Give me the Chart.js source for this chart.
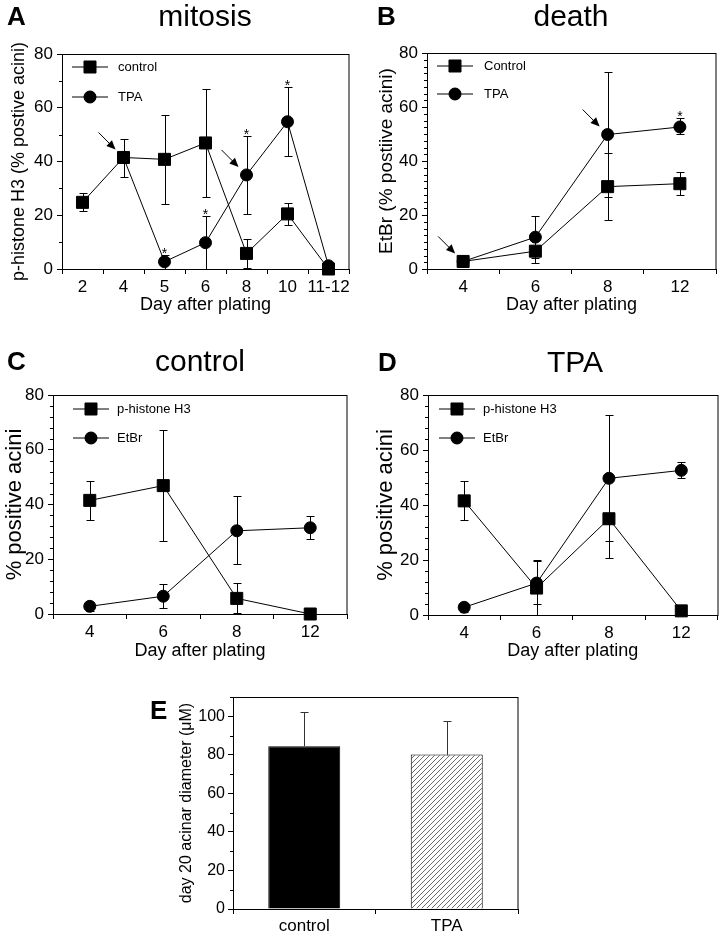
<!DOCTYPE html>
<html>
<head>
<meta charset="utf-8">
<script src="https://cdn.jsdelivr.net/npm/chart.js@4.4.1/dist/chart.umd.min.js"></script>
<style>
  body { margin: 0; background: #fff; width: 727px; height: 937px; position: relative; overflow: hidden;
         font-family: "Liberation Sans", Arial, sans-serif; }
  canvas { position: absolute; left: 0; top: 0; }
  .lbl { position: absolute; line-height: 1; white-space: nowrap; color: #000; transform: translateY(-50%); }
  .letter { font-weight: bold; font-size: 26px; }
  .ttl { font-size: 30px; transform: translate(-50%, -50%); }
</style>
</head>
<body>
<canvas id="chartA" width="727" height="937"></canvas>
<canvas id="chartB" width="727" height="937"></canvas>
<canvas id="chartC" width="727" height="937"></canvas>
<canvas id="chartD" width="727" height="937"></canvas>
<canvas id="chartE" width="727" height="937"></canvas>

<div class="lbl letter" style="left:7px;top:16px">A</div>
<div class="lbl ttl" style="left:205px;top:16px">mitosis</div>
<div class="lbl letter" style="left:377px;top:16px">B</div>
<div class="lbl ttl" style="left:571px;top:16px">death</div>
<div class="lbl letter" style="left:7px;top:361px">C</div>
<div class="lbl ttl" style="left:200px;top:361px">control</div>
<div class="lbl letter" style="left:378px;top:362px">D</div>
<div class="lbl ttl" style="left:575px;top:362px">TPA</div>
<div class="lbl letter" style="left:150px;top:710px">E</div>

<script>
const FONT = '"Liberation Sans", Arial, sans-serif';

// A - mitosis (p-histone H3)
const daysA = ['2', '4', '5', '6', '8', '10', '11-12'];
const ctrlA = [24.8, 41.5, 40.8, 46.9, 5.8, 20.5, 0];
const ctrlALo = [21.6, 34.2, 24.3, 26.8, 0.2, 16.5, null];
const ctrlAHi = [28.3, 48.4, 57.4, 67.0, 11.3, 24.7, null];
const tpaA = [null, 41.5, 2.7, 9.8, 35.0, 54.8, 1.2];
const tpaALo = [null, null, 0, 0, 20.6, 42.0, null];
const tpaAHi = [null, null, 5.3, 19.8, 49.4, 67.7, null];

// B - death (EtBr)
const daysB = ['4', '6', '8', '12'];
const ctrlB = [2.8, 6.6, 30.5, 31.6];
const ctrlBLo = [null, 2.3, 18.2, 27.4];
const ctrlBHi = [null, 10.8, 43.1, 35.9];
const tpaB = [2.8, 11.8, 49.8, 52.6];
const tpaBLo = [null, 4.0, 26.8, 50.0];
const tpaBHi = [null, 19.7, 72.9, 55.8];

// C - control
const daysC = ['4', '6', '8', '12'];
const ph3C = [41.5, 46.9, 5.7, 0];
const ph3CLo = [34.3, 26.8, 0.3, null];
const ph3CHi = [48.5, 67.2, 11.4, null];
const etbrC = [2.8, 6.5, 30.4, 31.5];
const etbrCLo = [1.2, 2.2, 18.2, 27.3];
const etbrCHi = [4.5, 10.9, 43.0, 35.8];

// D - TPA
const daysD = ['4', '6', '8', '12'];
const ph3D = [41.5, 9.8, 35.0, 1.5];
const ph3DLo = [34.4, 0, 20.7, null];
const ph3DHi = [48.6, 19.8, 49.5, null];
const etbrD = [2.8, 11.6, 49.7, 52.6];
const etbrDLo = [1.2, 4.0, 26.8, 50.0];
const etbrDHi = [4.5, 19.9, 72.8, 55.6];

// E - day 20 acinar diameter
const groupsE = ['control', 'TPA'];
const diamE = [84.5, 80.2];
const diamELo = [null, 63.3];
const diamEHi = [102.0, 97.3];

// Hatch pattern for the TPA bar
function makeHatch() {
  const c = document.createElement('canvas');
  c.width = 5; c.height = 5;
  const g = c.getContext('2d');
  g.fillStyle = '#fff';
  g.fillRect(0, 0, 5, 5);
  g.strokeStyle = '#444';
  g.lineWidth = 0.8;
  g.beginPath();
  g.moveTo(-1, 6); g.lineTo(6, -1);
  g.moveTo(-1, 1); g.lineTo(1, -1);
  g.moveTo(4, 6); g.lineTo(6, 4);
  g.stroke();
  return g.createPattern(c, 'repeat');
}

// Box, minor ticks, error bars, stars, arrows and inset legend
const panelDeco = {
  id: 'panelDeco',
  beforeDatasetsDraw(chart, args, opts) {
    const { ctx, chartArea: a, scales: { x, y } } = chart;
    ctx.save();
    ctx.strokeStyle = '#000';
    ctx.lineWidth = 1;
    ctx.strokeRect(Math.round(a.left) + 0.5, Math.round(a.top) + 0.5,
      Math.round(a.right - a.left) - 0.5, Math.round(a.bottom - a.top));

    // minor ticks on the y axis
    if (opts.minor) {
      ctx.beginPath();
      for (let v = y.min; v <= y.max + 1e-6; v += opts.minor) {
        if (Math.abs(v / opts.major - Math.round(v / opts.major)) < 1e-6) continue;
        const py = Math.round(y.getPixelForValue(v)) + 0.5;
        ctx.moveTo(a.left - 3, py);
        ctx.lineTo(a.left, py);
      }
      ctx.stroke();
    }

    // error bars
    ctx.strokeStyle = opts.errColor || '#000';
    chart.data.datasets.forEach(ds => {
      if (!ds.errHi) return;
      ds.data.forEach((v, i) => {
        if (v == null) return;
        const px = Math.round(x.getPixelForValue(i)) + 0.5;
        const ends = [ds.errHi[i], ds.errLo[i]];
        ends.forEach(e => {
          if (e == null) return;
          const p0 = y.getPixelForValue(v);
          const p1 = Math.round(y.getPixelForValue(e)) + 0.5;
          ctx.beginPath();
          ctx.moveTo(px, p0);
          ctx.lineTo(px, p1);
          ctx.moveTo(px - 4, p1);
          ctx.lineTo(px + 4, p1);
          ctx.stroke();
        });
      });
    });
    ctx.restore();
  },
  afterDatasetsDraw(chart, args, opts) {
    const { ctx, chartArea: a, scales: { x, y } } = chart;
    ctx.save();
    ctx.fillStyle = '#000';
    ctx.strokeStyle = '#000';
    ctx.lineWidth = 1;

    // significance stars above the TPA error bars
    (opts.stars || []).forEach(([di, i]) => {
      const ds = chart.data.datasets[di];
      const top = ds.errHi[i] != null ? ds.errHi[i] : ds.data[i];
      ctx.font = '14px ' + FONT;
      ctx.textAlign = 'center';
      ctx.textBaseline = 'alphabetic';
      ctx.fillText('*', x.getPixelForValue(i), y.getPixelForValue(top) + 3);
    });

    // arrows pointing at a data point from the upper left
    (opts.arrows || []).forEach(([di, i]) => {
      const ds = chart.data.datasets[di];
      const px = x.getPixelForValue(i);
      const py = y.getPixelForValue(ds.data[i]);
      const tx = px - 8, ty = py - 8;
      const sx = px - 25, sy = py - 25;
      const ang = Math.atan2(ty - sy, tx - sx);
      ctx.beginPath();
      ctx.moveTo(sx, sy);
      ctx.lineTo(tx - 6 * Math.cos(ang), ty - 6 * Math.sin(ang));
      ctx.stroke();
      ctx.beginPath();
      ctx.moveTo(tx, ty);
      ctx.lineTo(tx - 9 * Math.cos(ang) + 4 * Math.sin(ang), ty - 9 * Math.sin(ang) - 4 * Math.cos(ang));
      ctx.lineTo(tx - 9 * Math.cos(ang) - 4 * Math.sin(ang), ty - 9 * Math.sin(ang) + 4 * Math.cos(ang));
      ctx.closePath();
      ctx.fill();
    });

    // inset legend: line with marker, then label
    if (opts.legend) {
      const L = opts.legend;
      chart.data.datasets.forEach((ds, k) => {
        const ly = a.top + L.dy + k * L.gap;
        const lx = a.left + L.dx;
        ctx.beginPath();
        ctx.moveTo(lx, ly);
        ctx.lineTo(lx + 36, ly);
        ctx.stroke();
        Chart.helpers.drawPoint(ctx, {
          pointStyle: ds.pointStyle, radius: ds.pointRadius, borderWidth: 1
        }, lx + 18, ly);
        ctx.fill();
        ctx.font = '13px ' + FONT;
        ctx.textAlign = 'left';
        ctx.textBaseline = 'middle';
        ctx.fillText(ds.label, a.left + L.textDx, ly);
      });
    }
    ctx.restore();
  }
};

function series(label, data, lo, hi, style) {
  return {
    label: label,
    data: data,
    errLo: lo,
    errHi: hi,
    borderColor: '#000',
    borderWidth: 1,
    backgroundColor: '#000',
    pointStyle: style,
    pointRadius: style === 'rect' ? 8.5 : 6,
    pointBackgroundColor: '#000',
    pointBorderColor: '#000',
    pointBorderWidth: 1,
    tension: 0,
    clip: false
  };
}

function lineChart(id, cfg) {
  const lh = cfg.yTitleSize * 1.2;
  const padLeft = cfg.yTitleX - lh / 2;
  const xBottom = cfg.xTitleY + 18 * 1.2 / 2;
  return new Chart(document.getElementById(id), {
    type: 'line',
    data: { labels: cfg.labels, datasets: cfg.sets },
    options: {
      responsive: false,
      animation: false,
      layout: {
        padding: { left: padLeft, top: cfg.area.t, right: 727 - cfg.area.r, bottom: 937 - xBottom }
      },
      plugins: {
        legend: { display: false },
        tooltip: { enabled: false },
        panelDeco: { minor: cfg.minor, major: 20, stars: cfg.stars, arrows: cfg.arrows, legend: cfg.legend }
      },
      scales: {
        x: {
          type: 'category',
          offset: true,
          grid: { display: true, drawOnChartArea: false, tickLength: 5, color: '#000', offset: true },
          border: { display: true, color: '#000' },
          ticks: { color: '#000', font: { family: FONT, size: 17 }, padding: 3, maxRotation: 0, autoSkip: false },
          title: { display: true, text: 'Day after plating', color: '#000', padding: 0,
                   font: { family: FONT, size: 18, lineHeight: 1.2 } },
          afterFit: s => { s.height = xBottom - cfg.area.b; }
        },
        y: {
          min: 0, max: 80,
          grid: { display: true, drawOnChartArea: false, tickLength: 5, color: '#000' },
          border: { display: true, color: '#000' },
          ticks: { stepSize: 20, color: '#000', font: { family: FONT, size: 17 }, padding: 4 },
          title: { display: true, text: cfg.yTitle, color: '#000', padding: 0,
                   font: { family: FONT, size: cfg.yTitleSize, lineHeight: 1.2 } },
          afterFit: s => { s.width = cfg.area.l - padLeft; }
        }
      }
    },
    plugins: [panelDeco]
  });
}

lineChart('chartA', {
  labels: daysA,
  sets: [series('control', ctrlA, ctrlALo, ctrlAHi, 'rect'), series('TPA', tpaA, tpaALo, tpaAHi, 'circle')],
  area: { l: 62, t: 54, r: 349, b: 269 },
  yTitle: 'p-histone H3 (% postive acini)', yTitleX: 19, yTitleSize: 18, xTitleY: 305,
  minor: 10,
  stars: [[1, 2], [1, 3], [1, 4], [1, 5]],
  arrows: [[0, 1], [1, 4]],
  legend: { dx: 10, dy: 13, gap: 30, textDx: 56 }
});

lineChart('chartB', {
  labels: daysB,
  sets: [series('Control', ctrlB, ctrlBLo, ctrlBHi, 'rect'), series('TPA', tpaB, tpaBLo, tpaBHi, 'circle')],
  area: { l: 427, t: 53, r: 716, b: 269 },
  yTitle: 'EtBr (% postiive acini)', yTitleX: 387, yTitleSize: 19, xTitleY: 305,
  minor: 2.5,
  stars: [[1, 3]],
  arrows: [[0, 0], [1, 2]],
  legend: { dx: 10, dy: 13, gap: 28, textDx: 57 }
});

lineChart('chartC', {
  labels: daysC,
  sets: [series('p-histone H3', ph3C, ph3CLo, ph3CHi, 'rect'), series('EtBr', etbrC, etbrCLo, etbrCHi, 'circle')],
  area: { l: 53, t: 395, r: 347, b: 614 },
  yTitle: '% positive acini', yTitleX: 15, yTitleSize: 22, xTitleY: 651,
  minor: 4,
  legend: { dx: 20, dy: 14, gap: 29, textDx: 64 }
});

lineChart('chartD', {
  labels: daysD,
  sets: [series('p-histone H3', ph3D, ph3DLo, ph3DHi, 'rect'), series('EtBr', etbrD, etbrDLo, etbrDHi, 'circle')],
  area: { l: 428, t: 395, r: 722, b: 615 },
  yTitle: '% positive acini', yTitleX: 386, yTitleSize: 22, xTitleY: 651,
  minor: 4,
  legend: { dx: 11, dy: 14, gap: 29, textDx: 55 }
});

// Panel E bar chart
const areaE = { l: 233, t: 697, r: 518, b: 909 };
const padLeftE = 187 - 16 * 1.2 / 2;
new Chart(document.getElementById('chartE'), {
  type: 'bar',
  data: {
    labels: groupsE,
    datasets: [{
      data: diamE,
      errLo: diamELo,
      errHi: diamEHi,
      backgroundColor: ['#000', makeHatch()],
      borderColor: '#000',
      borderWidth: 1,
      barPercentage: 0.505,
      categoryPercentage: 1
    }]
  },
  options: {
    responsive: false,
    animation: false,
    layout: { padding: { left: padLeftE, top: areaE.t, right: 727 - areaE.r, bottom: 937 - areaE.b - 28 } },
    plugins: {
      legend: { display: false },
      tooltip: { enabled: false },
      panelDeco: { minor: 10, major: 20, errColor: '#333' }
    },
    scales: {
      x: {
        grid: { display: true, drawOnChartArea: false, tickLength: 5, color: '#000', offset: true },
        border: { display: true, color: '#000' },
        ticks: { color: '#000', font: { family: FONT, size: 17 }, padding: 2 },
        afterFit: s => { s.height = 28; }
      },
      y: {
        min: 0, max: 110,
        grid: { display: true, drawOnChartArea: false, tickLength: 5, color: '#000' },
        border: { display: true, color: '#000' },
        ticks: { stepSize: 20, color: '#000', font: { family: FONT, size: 16 }, padding: 3 },
        afterBuildTicks: s => { s.ticks = s.ticks.filter(t => t.value <= 100); },
        title: { display: true, text: 'day 20 acinar diameter (\u03bcM)', color: '#000', padding: 0,
                 font: { family: FONT, size: 16, lineHeight: 1.2 } },
        afterFit: s => { s.width = areaE.l - padLeftE; }
      }
    }
  },
  plugins: [panelDeco]
});
</script>
</body>
</html>
